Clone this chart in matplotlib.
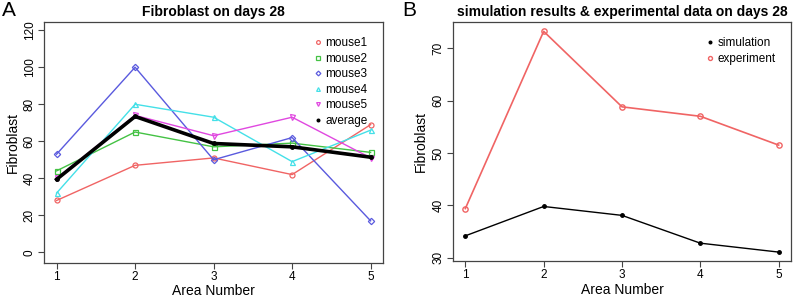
import matplotlib
matplotlib.use("Agg")
import matplotlib.pyplot as plt

areas = [1, 2, 3, 4, 5]
mouse1 = [28, 47, 51, 42, 69]
mouse2 = [44, 65, 57, 59, 54]
mouse3 = [53, 100, 50, 62, 17]
mouse4 = [32, 80, 73, 49, 66]
mouse5 = [40, 74, 63, 73, 51]
average = [39.4, 73.4, 58.8, 57.0, 51.4]

simulation = [34.2, 39.8, 38.1, 32.8, 31.1]
experiment = [39.4, 73.2, 58.8, 57.0, 51.5]

plt.rcParams['font.family'] = ['Liberation Sans', 'DejaVu Sans']

fig = plt.figure(figsize=(8, 3), dpi=100)
axA = fig.add_axes([0.055, 0.125, 0.424, 0.802])
axB = fig.add_axes([0.566, 0.13, 0.423, 0.797])

series = [
    (mouse1, '#f06464', 'o', 'mouse1'),
    (mouse2, '#44c244', 's', 'mouse2'),
    (mouse3, '#5a5ade', 'D', 'mouse3'),
    (mouse4, '#44e0e8', '^', 'mouse4'),
    (mouse5, '#e048e0', 'v', 'mouse5'),
]
for vals, col, mk, lab in series:
    ms = 3.2 if mk == 'D' else 3.6
    axA.plot(areas, vals, color=col, lw=1, marker=mk, ms=ms,
             mfc='none', mec=col, mew=0.9, label=lab)
axA.plot(areas, average, color='black', lw=2.6, marker='o', ms=2.5,
         label='average')

axB.plot(areas, simulation, color='black', lw=1, marker='o', ms=2.5,
         label='simulation')
axB.plot(areas, experiment, color='#f06464', lw=1.2, marker='o', ms=3.8,
         mfc='none', mec='#f06464', mew=1, label='experiment')

for ax in (axA, axB):
    ax.set_xlim(0.84, 5.16)
    ax.set_xticks(areas)
    ax.set_xlabel('Area Number', fontsize=10, labelpad=1)
    ax.set_ylabel('Fibroblast', fontsize=10, labelpad=3)
    ax.tick_params(direction='out', length=4, labelsize=8.5, pad=2,
                   color='#444444')
    for s in ax.spines.values():
        s.set_color('#444444')
        s.set_linewidth(0.9)
    leg = ax.legend(loc='upper right', frameon=False, fontsize=8.5,
                    handlelength=0.5, handletextpad=0.4, labelspacing=0.3,
                    borderaxespad=0.9, markerscale=0.75)
    for h in leg.legend_handles:
        h.set_linestyle('none')

axA.set_ylim(-5.5, 124.5)
axA.set_yticks([0, 20, 40, 60, 80, 100, 120])
axA.set_title('Fibroblast on days 28', fontsize=10, fontweight='bold', pad=4)

axB.set_ylim(29.4, 75.0)
axB.set_yticks([30, 40, 50, 60, 70])
axB.set_title('simulation results & experimental data on days 28',
              fontsize=10, fontweight='bold', pad=4)

for ax in (axA, axB):
    for lab in ax.get_yticklabels():
        lab.set_rotation(90)
        lab.set_va('center')

fig.text(0.003, 0.995, 'A', fontsize=15, va='top', ha='left')
fig.text(0.503, 0.995, 'B', fontsize=15, va='top', ha='left')

fig.savefig('out.png', dpi=100)
